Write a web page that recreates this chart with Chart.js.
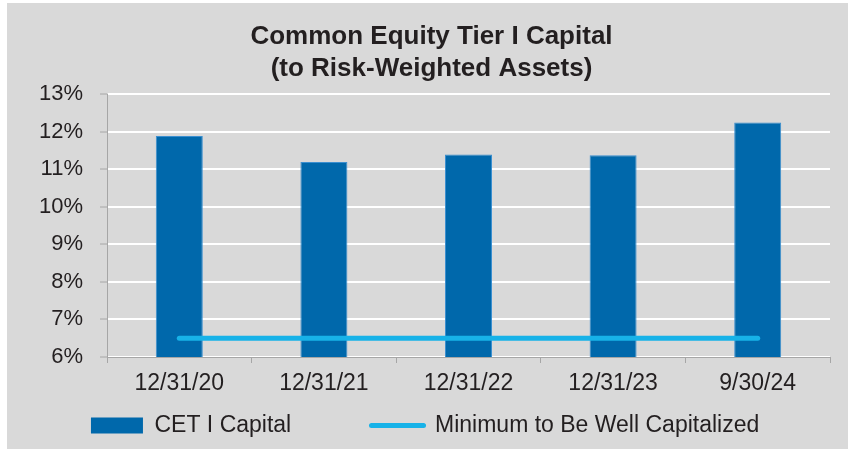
<!DOCTYPE html>
<html>
<head>
<meta charset="utf-8">
<script src="https://cdn.jsdelivr.net/npm/chart.js@4/dist/chart.umd.min.js"></script>
<style>
  html, body { margin: 0; padding: 0; background: #ffffff; }
  #wrap { width: 848px; height: 449px; }
</style>
</head>
<body>
<div id="wrap"><canvas id="capChart" width="848" height="449"></canvas></div>
<script>
// ---------------- data ----------------
const categories = ['12/31/20', '12/31/21', '12/31/22', '12/31/23', '9/30/24'];
const cetCapital = [11.88, 11.19, 11.39, 11.37, 12.24];
const minWellCapitalized = [6.5, 6.5, 6.5, 6.5, 6.5];
const yTicks = [6, 7, 8, 9, 10, 11, 12, 13];
const titleLines = ['Common Equity Tier I Capital', '(to Risk-Weighted Assets)'];
const seriesNames = ['CET I Capital', 'Minimum to Be Well Capitalized'];

// ---------------- colors ----------------
const COLORS = {
    panel: '#d9d9d9',
    bar: '#0068ab',
    barEdge: '#3b8fd0',
    line: '#17b2e8',
    text: '#231f20',
    axis: '#a6a6a6',
    grid: '#ffffff'
};

// gray panel behind the chart
const panelBg = {
    id: 'panelBg',
    beforeDraw(chart) {
        const ctx = chart.ctx;
        ctx.save();
        ctx.fillStyle = COLORS.panel;
        ctx.fillRect(7, 3, chart.width - 7, chart.height - 3);
        ctx.restore();
    }
};

Chart.defaults.font.family = 'Arial, "Liberation Sans", sans-serif';
Chart.defaults.color = COLORS.text;

// trailing spaces: widen the gap between entries and nudge the legend left
const legendPad = ['           ', '  '];

new Chart(document.getElementById('capChart'), {
    type: 'bar',
    data: {
        labels: categories,
        datasets: [
            {
                label: seriesNames[0],
                data: cetCapital,
                backgroundColor: COLORS.bar,
                borderColor: COLORS.barEdge,
                borderWidth: 1,
                barPercentage: 0.325,
                categoryPercentage: 1,
                order: 2
            },
            {
                type: 'line',
                label: seriesNames[1],
                data: minWellCapitalized,
                borderColor: COLORS.line,
                backgroundColor: COLORS.line,
                borderWidth: 5,
                borderCapStyle: 'round',
                pointRadius: 0,
                order: 1
            }
        ]
    },
    options: {
        responsive: false,
        animation: false,
        layout: { padding: { left: 33, right: 18, top: 3, bottom: 2 } },
        plugins: {
            tooltip: { enabled: false },
            title: {
                display: true,
                text: titleLines,
                color: COLORS.text,
                font: { size: 26, weight: 'bold', lineHeight: '32px' },
                padding: { top: 18, bottom: 9 }
            },
            legend: {
                position: 'bottom',
                labels: {
                    usePointStyle: true,
                    pointStyleWidth: 52,
                    boxHeight: 16,
                    padding: 10,
                    color: COLORS.text,
                    font: { size: 23 },
                    sort: (a, b) => a.datasetIndex - b.datasetIndex,
                    generateLabels: chart => chart.data.datasets.map((ds, i) => ({
                        text: ds.label + legendPad[i],
                        fillStyle: ds.type === 'line' ? ds.borderColor : ds.backgroundColor,
                        strokeStyle: ds.borderColor,
                        lineWidth: ds.type === 'line' ? 5 : 0,
                        lineCap: 'round',
                        pointStyle: ds.type === 'line' ? 'line' : 'rect',
                        fontColor: COLORS.text,
                        hidden: false,
                        datasetIndex: i
                    }))
                }
            }
        },
        scales: {
            x: {
                offset: true,
                afterFit: scale => { scale.height = 47; },
                grid: {
                    offset: true,
                    drawOnChartArea: false,
                    drawTicks: true,
                    tickLength: 6,
                    tickColor: COLORS.axis,
                    tickWidth: 1
                },
                border: { display: true, color: COLORS.axis, width: 1 },
                ticks: {
                    color: COLORS.text,
                    font: { size: 23 },
                    padding: 7,
                    maxRotation: 0
                }
            },
            y: {
                min: yTicks[0],
                max: yTicks[yTicks.length - 1],
                afterFit: scale => { scale.width = 74; },
                afterBuildTicks: scale => { scale.ticks = yTicks.map(v => ({ value: v })); },
                grid: {
                    color: COLORS.grid,
                    lineWidth: 2,
                    tickLength: 7,
                    tickColor: COLORS.axis,
                    tickWidth: 1
                },
                border: { display: true, color: COLORS.axis, width: 1 },
                ticks: {
                    color: COLORS.text,
                    font: { size: 22 },
                    padding: 17,
                    callback: v => v + '%'
                }
            }
        }
    },
    plugins: [panelBg]
});
</script>
</body>
</html>
